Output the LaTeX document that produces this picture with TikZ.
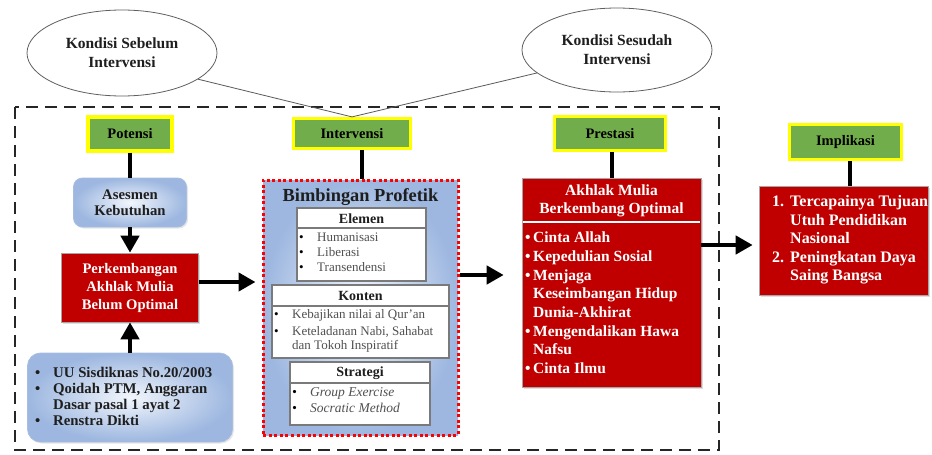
\documentclass[tikz,border=0pt]{standalone}
\usepackage{fontspec}
\setmainfont{Liberation Serif}
\usetikzlibrary{arrows.meta,shapes.geometric,shadows}

\definecolor{boxred}{HTML}{C00000}
\definecolor{tagfill}{HTML}{72AD4C}
\definecolor{tagedge}{HTML}{FFFF00}
\definecolor{softin}{HTML}{F2F6FC}
\definecolor{softout}{HTML}{9DB7E0}
\definecolor{softedge}{HTML}{A8BEE0}
\definecolor{itemgray}{HTML}{505050}
\definecolor{subedge}{HTML}{7A7A7A}
\definecolor{inkdark}{HTML}{1E1E1E}

\newcommand\fsz[2]{\fontsize{#1}{#2}\selectfont}
\newcommand\blt[1]{\makebox[#1][l]{\textbullet}}
\newcommand\dotblk[1]{\makebox[#1][l]{\textcolor{black}{\textbullet}}}

\begin{document}
\begin{tikzpicture}[x=1pt,y=-1pt,
  oval/.style={ellipse, draw=gray!75!black, line width=0.8pt, fill=white,
    align=center, inner sep=0, text=inkdark, font=\fsz{15.5}{19}\bfseries},
  tag/.style={draw=tagedge, line width=3.2pt, fill=tagfill, inner sep=0,
    text=black, font=\fsz{14.5}{16}\bfseries,
    drop shadow={opacity=0.25, shadow xshift=1.5pt, shadow yshift=-1.5pt}},
  redbox/.style={fill=boxred, draw=gray!70, line width=0.6pt, inner sep=0,
    drop shadow={opacity=0.25, shadow xshift=1.5pt, shadow yshift=-1.5pt}},
  softbox/.style={draw=softedge, line width=0.8pt, inner color=softin,
    outer color=softout, inner sep=0, align=center, text=inkdark,
    drop shadow={opacity=0.2, shadow xshift=1.5pt, shadow yshift=-1.5pt}},
  dotframe/.style={draw=red, line width=3pt, dash pattern=on 3pt off 2.6pt,
    inner color=softin!90!white, outer color=softout, inner sep=0},
  subbox/.style={draw=subedge, line width=1.1pt, fill=white},
  frame/.style={draw=black!85, line width=2.6pt, dash pattern=on 12pt off 7pt},
  conn/.style={line width=4.5pt},
  arr/.style={line width=4.5pt, -{Triangle[length=17pt,width=18pt]}},
  thinline/.style={draw=gray!70!black, line width=0.8pt},
  % multi-line lists: the base anchor sits on the baseline of the last line
  plain/.style={inner sep=0, align=left, anchor=base west}
]
\useasboundingbox (0,0) rectangle (932,455);

% outer dashed frame around the intervention stage
\draw[frame] (15,107) rectangle (719,450);

% condition ellipses
\node[oval, minimum width=190pt, minimum height=86pt] (before) at (122,53) {Kondisi Sebelum\\Intervensi};
\node[oval, minimum width=190pt, minimum height=84pt] (after) at (617,50) {Kondisi Sesudah\\Intervensi};

% column heading tags
\node[tag, minimum width=84pt, minimum height=34pt] (pot) at (130,134) {Potensi};
\node[tag, minimum width=117pt, minimum height=30pt] (int) at (352,133.5) {Intervensi};
\node[tag, minimum width=111pt, minimum height=34pt] (pre) at (610,133.5) {Prestasi};
\node[tag, minimum width=112pt, minimum height=35pt] (imp) at (845.5,142) {Implikasi};

\draw[thinline] (before.-19) -- (int.north) -- (after.196);

% potensi column
\node[softbox, rounded corners=9pt, minimum width=113pt, minimum height=49pt,
  font=\fsz{14.7}{16}\bfseries] (ases) at (130,202.5) {Asesmen\\Kebutuhan};
\node[redbox, minimum width=137pt, minimum height=69pt, align=center, text=white,
  font=\fsz{14.6}{18}\bfseries] (perk) at (130,287.5) {Perkembangan\\Akhlak Mulia\\Belum Optimal};
\node[softbox, rounded corners=13pt, minimum width=205pt, minimum height=89pt] (uu) at (130,397.5) {};
\node[plain, text=inkdark, font=\fsz{14.8}{16}\bfseries] (uutext) at (35,425)
  {\blt{18pt}UU Sisdiknas No.20/2003\\
   \blt{18pt}Qoidah PTM, Anggaran\\
   \hspace*{18pt}Dasar pasal 1 ayat 2\\
   \blt{18pt}Renstra Dikti};

% intervention block
\node[dotframe, minimum width=195pt, minimum height=255pt] (bim) at (360.5,307.5) {};
\node[inner sep=0, text=inkdark, font=\fsz{18.4}{20}\bfseries] (bimtitle) at (360.5,197) {Bimbingan Profetik};

\draw[subbox] (297,208) rectangle (426,281);
\draw[subedge, line width=1.1pt] (297,228) -- (426,228);
\node[inner sep=0, text=inkdark, font=\fsz{14}{16}\bfseries] (elemen) at (361.5,218.5) {Elemen};
\node[plain, text=itemgray, font=\fsz{13}{15}] (elemenitems) at (299,271.5)
  {\dotblk{18pt}Humanisasi\\ \dotblk{18pt}Liberasi\\ \dotblk{18pt}Transendensi};

\draw[subbox] (272,285) rectangle (449,358);
\draw[subedge, line width=1.1pt] (272,306) -- (449,306);
\node[inner sep=0, text=inkdark, font=\fsz{14}{16}\bfseries] (konten) at (360.5,296) {Konten};
\node[plain, text=itemgray, font=\fsz{13}{14}] (kontenitems) at (274,349.5)
  {\dotblk{18pt}Kebajikan nilai al Qur'an\\[3pt]
   \dotblk{18pt}Keteladanan Nabi, Sahabat\\
   \hspace*{18pt}dan Tokoh Inspiratif};

\draw[subbox] (290,362) rectangle (430,425);
\draw[subedge, line width=1.1pt] (290,383) -- (430,383);
\node[inner sep=0, text=inkdark, font=\fsz{14}{16}\bfseries] (strategi) at (360,373) {Strategi};
\node[plain, text=itemgray, font=\fsz{13.5}{16}\itshape] (strategiitems) at (292,412.5)
  {\dotblk{18pt}Group Exercise\\ \dotblk{18pt}Socratic Method};

% achievement block
\node[redbox, minimum width=179pt, minimum height=209pt] (akh) at (611.5,282.5) {};
\node[inner sep=0, align=center, text=white, font=\fsz{15.5}{18}\bfseries] (akhtitle) at (611.5,201)
  {Akhlak Mulia\\Berkembang Optimal};
\draw[white, line width=1.5pt] (523,222) -- (700,222);
\node[plain, text=white, font=\fsz{15.5}{18.7}\bfseries] (akhitems) at (525,373.5)
  {\blt{8pt}Cinta Allah\\
   \blt{8pt}Kepedulian Sosial\\
   \blt{8pt}Menjaga\\
   \hspace*{8pt}Keseimbangan Hidup\\
   \hspace*{8pt}Dunia-Akhirat\\
   \blt{8pt}Mengendalikan Hawa\\
   \hspace*{8pt}Nafsu\\
   \blt{8pt}Cinta Ilmu};

% implication block
\node[redbox, minimum width=169pt, minimum height=109pt] (impbox) at (843.5,240.5) {};
\node[plain, text=white, font=\fsz{16}{18.5}\bfseries] (impitems) at (772,280.5)
  {\makebox[18pt][l]{1.}Tercapainya Tujuan\\
   \hspace*{18pt}Utuh Pendidikan\\
   \hspace*{18pt}Nasional\\
   \makebox[18pt][l]{2.}Peningkatan Daya\\
   \hspace*{18pt}Saing Bangsa};

% connectors
\draw[conn] (pot) -- (ases);
\draw[arr] (ases) -- (perk);
\draw[arr] (uu) -- (perk);
\draw[arr, shorten >=6pt] ([yshift=5.5pt]perk.east) -- ([yshift=5.5pt]perk.east -| bim.west);
\draw[conn] ([xshift=10pt]int.south) -- ([xshift=10pt]int.south |- bim.north);
\draw[arr, shorten >=18pt] ([yshift=32.5pt]bim.east) -- ([yshift=32.5pt]bim.east -| akh.west);
\draw[conn] ([xshift=2pt]pre.south) -- ([xshift=2pt]pre.south |- akh.north);
\draw[arr, shorten >=6pt] ([yshift=37.5pt]akh.east) -- ([yshift=37.5pt]akh.east -| impbox.west);
\draw[conn] ([xshift=4.5pt]imp.south) -- ([xshift=4.5pt]imp.south |- impbox.north);
\end{tikzpicture}
\end{document}
